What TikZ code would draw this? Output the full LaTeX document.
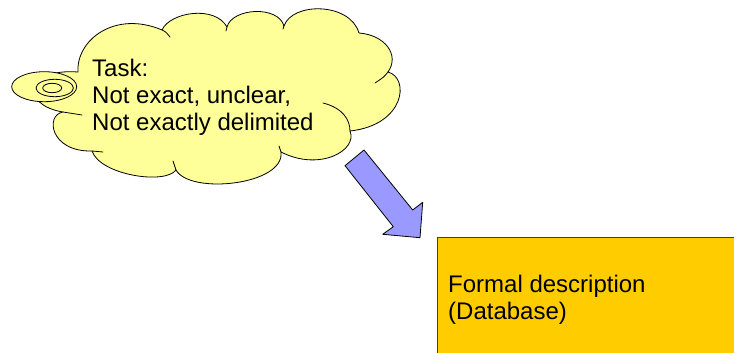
\documentclass[tikz,border=0pt]{standalone}
\usepackage{fontspec}
\setmainfont{Liberation Sans}
\usetikzlibrary{calc}
\definecolor{cloudfill}{HTML}{FFFF99}
\definecolor{arrowfill}{HTML}{9999FF}
\definecolor{boxfill}{HTML}{FFCC00}
\definecolor{boxline}{HTML}{404040}
\tikzset{
  outline/.style={draw=black, line width=0.8pt, line join=round},
  bubble/.style={outline, fill=cloudfill},
  crease/.style={draw=black, line width=0.8pt, line cap=round},
  label/.style={inner sep=0pt, align=left, font=\fontsize{24}{27}\selectfont},
}
\begin{document}
\begin{tikzpicture}[x=1pt, y=-1pt]
\useasboundingbox (0,0) rectangle (734,353);

% cloud outline, lobe by lobe, clockwise from the left
\path[bubble]
  (78,72) .. controls (76,40) and (115,10) .. (162,30)
  .. controls (170,12) and (215,5) .. (227,27)
  .. controls (232,8) and (278,5) .. (284,26)
  .. controls (292,2) and (350,2) .. (359,33)
  .. controls (385,35) and (400,55) .. (388,72)
  .. controls (410,78) and (405,125) .. (350,131)
  .. controls (358,150) and (320,172) .. (281,152)
  .. controls (285,185) and (190,195) .. (176,170)
  .. controls (165,185) and (100,175) .. (92,151)
  .. controls (50,152) and (45,115) .. (63,112)
  .. controls (20,105) and (25,68) .. (78,72) -- cycle;

% inner creases where the lobes meet
\draw[crease] (162,30) .. controls (166,32) .. (170,37);
\draw[crease] (227,27) -- (226,31);
\draw[crease] (284,26) -- (283,29);
\draw[crease] (388,72) .. controls (384,77) .. (375,83);
\draw[crease] (323,103) .. controls (343,108) and (350,120) .. (350,131);
\draw[crease] (281,152) -- (279,146);
\draw[crease] (176,170) -- (173,161);
\draw[crease] (92,151) .. controls (97,151.5) .. (103,152);
\draw[crease] (63,112) .. controls (72,113) .. (82,115);

% small thought bubbles on the left
\draw[bubble] (44.2,86.7) ellipse [x radius=32.5, y radius=15];
\draw[outline] (54.7,88) ellipse [x radius=18.7, y radius=8.7];
\draw[outline] (52.2,88) ellipse [x radius=9.5, y radius=4.7];

% the base anchor sits on the last line of the text
\node[label, anchor=base west] (task) at (92,130.7)
  {Task:\\Not exact, unclear,\\Not exactly delimited};

% result box, running off the right and bottom edges
\path[draw=boxline, line width=0.8pt, fill=boxfill] (437,237.3) rectangle (740,360);
\node[label, anchor=base west] (formal) at (448,319.7)
  {Formal description\\(Database)};

% block arrow from the cloud towards the box
\path[outline, fill=arrowfill]
  (345,165.7) -- (364,150) -- (412.7,210) -- (422.7,202.3)
  -- (420,237.7) -- (382.7,234.3) -- (393.3,226.7) -- cycle;
\end{tikzpicture}
\end{document}
